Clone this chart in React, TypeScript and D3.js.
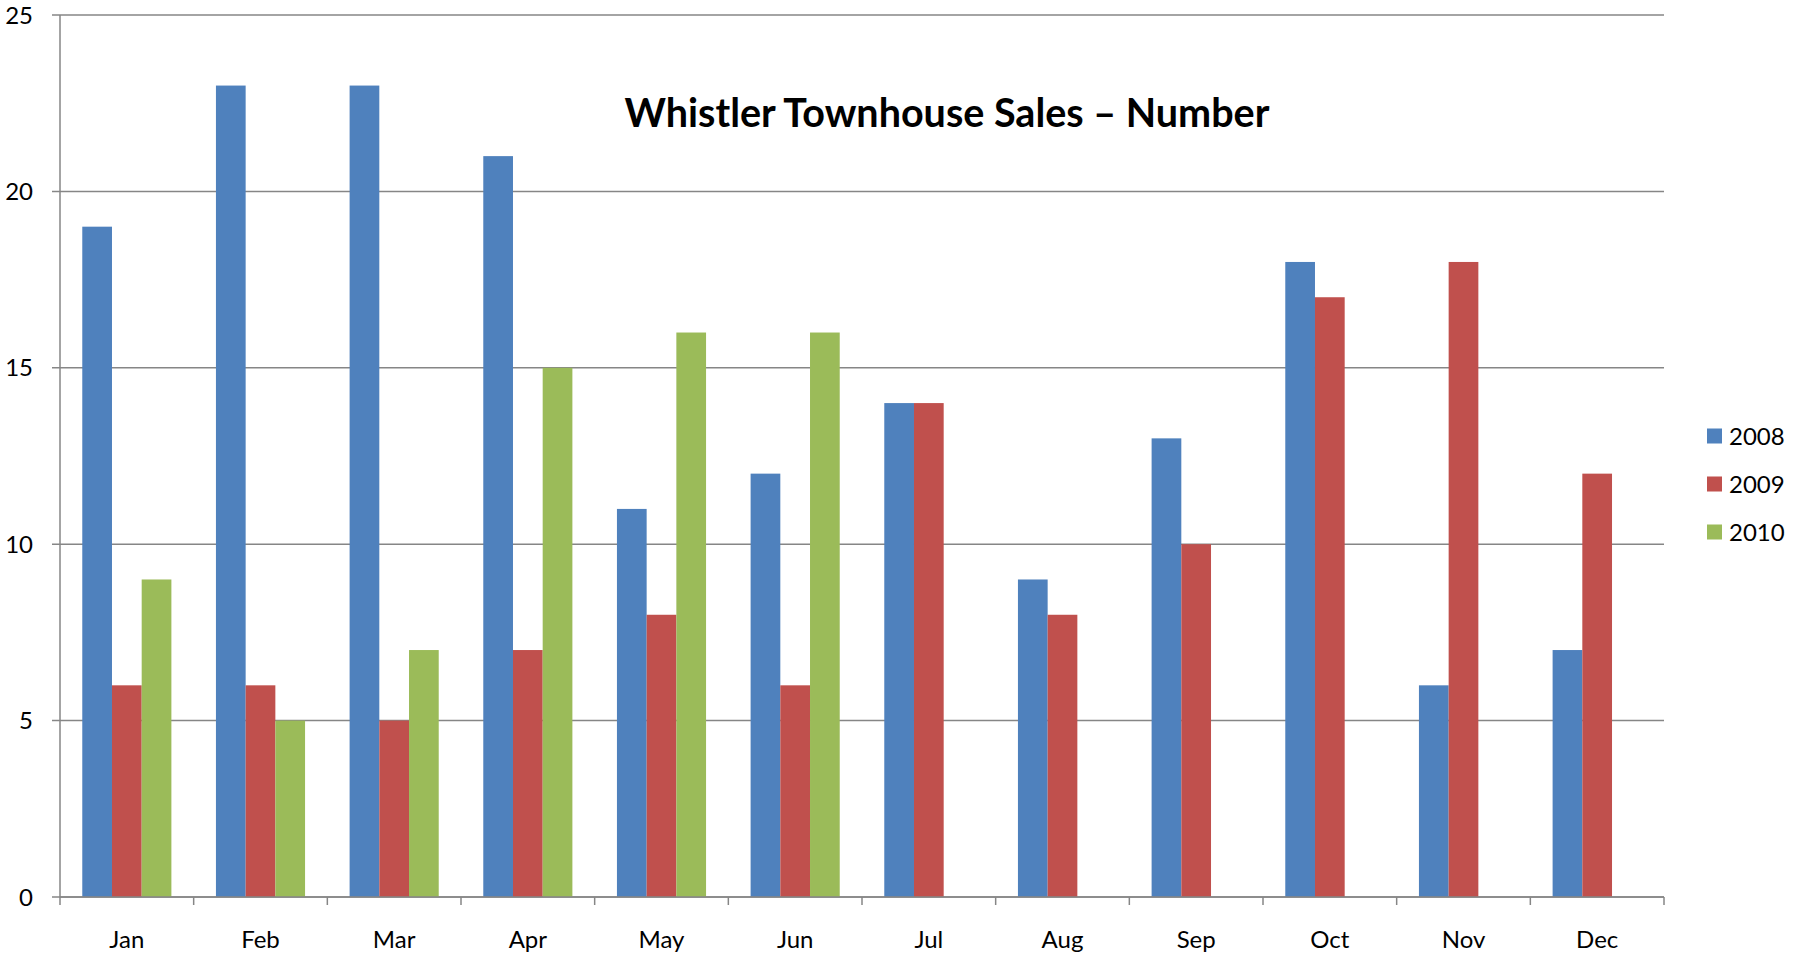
import React from "react";
import * as d3 from "d3";

const months = ["Jan", "Feb", "Mar", "Apr", "May", "Jun", "Jul", "Aug", "Sep", "Oct", "Nov", "Dec"];
const seriesNames = ["2008", "2009", "2010"];
const sales2008 = [19, 23, 23, 21, 11, 12, 14, 9, 13, 18, 6, 7];
const sales2009 = [6, 6, 5, 7, 8, 6, 14, 8, 10, 17, 18, 12];
const sales2010: (number | null)[] = [9, 5, 7, 15, 16, 16, null, null, null, null, null, null];
const yTicks = [0, 5, 10, 15, 20, 25];
const colors = ["#4F81BD", "#C0504D", "#9BBB59"];
const title = "Whistler Townhouse Sales \u2013 Number";

const W = 1801;
const H = 954;
const left = 60;
const right = 1664;
const top = 15;
const bottom = 897;
const font = "Lato, 'Open Sans', sans-serif";

export default function App() {
  const x = d3.scaleBand<string>().domain(months).range([left, right]).paddingInner(0).paddingOuter(0);
  const inner = d3.scaleBand<string>().domain(seriesNames).range([0, x.bandwidth()]).paddingInner(0).paddingOuter(0.75);
  const y = d3.scaleLinear().domain([0, 25]).range([bottom, top]);
  const allSeries = [sales2008, sales2009, sales2010];
  const gridColor = "#868686";

  return (
    <svg width={W} height={H} style={{ position: "absolute", left: 0, top: 0, display: "block", background: "#fff" }}>
      {yTicks.map((t) => (
        <g key={t}>
          <line x1={left - 8} x2={right} y1={y(t)} y2={y(t)} stroke={gridColor} strokeWidth={1.5} />
          <text x={33} y={y(t) - 1} textAnchor="end" dominantBaseline="central" fontFamily={font} fontSize={24} fill="#000">
            {t}
          </text>
        </g>
      ))}
      <line x1={left} x2={left} y1={top} y2={bottom} stroke={gridColor} strokeWidth={1.5} />
      {allSeries.map((s, si) =>
        s.map((v, i) =>
          v == null ? null : (
            <rect
              key={`${si}-${i}`}
              x={(x(months[i]) as number) + (inner(seriesNames[si]) as number)}
              y={y(v)}
              width={inner.bandwidth()}
              height={bottom - y(v)}
              fill={colors[si]}
            />
          )
        )
      )}
      <line x1={left} x2={right} y1={bottom} y2={bottom} stroke={gridColor} strokeWidth={1.5} />
      {months.concat(["end"]).map((m, i) => {
        const xx = left + i * x.step();
        return <line key={`t${i}`} x1={xx} x2={xx} y1={bottom} y2={bottom + 8} stroke={gridColor} strokeWidth={1.5} />;
      })}
      {months.map((m) => (
        <text
          key={m}
          x={(x(m) as number) + x.bandwidth() / 2}
          y={938}
          textAnchor="middle"
          dominantBaseline="central"
          fontFamily={font}
          fontSize={24}
          fill="#000"
        >
          {m}
        </text>
      ))}
      <text
        x={947}
        y={111}
        textAnchor="middle"
        dominantBaseline="central"
        fontFamily={font}
        fontWeight="bold"
        fontSize={39.5}
        fill="#000"
      >
        {title}
      </text>
      {seriesNames.map((n, i) => (
        <g key={n}>
          <rect x={1707} y={436 + i * 48 - 7.5} width={15} height={15} fill={colors[i]} />
          <text x={1729} y={435 + i * 48} dominantBaseline="central" fontFamily={font} fontSize={24} fill="#000">
            {n}
          </text>
        </g>
      ))}
    </svg>
  );
}
